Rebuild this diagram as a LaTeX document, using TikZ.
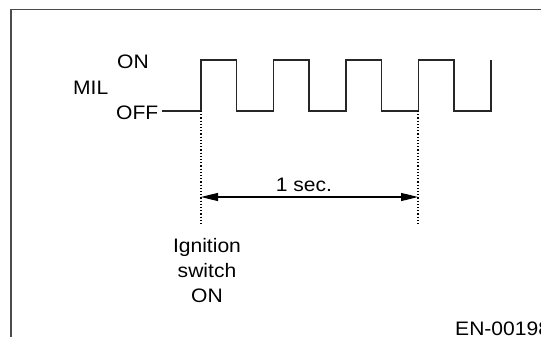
\documentclass[tikz,border=0pt]{standalone}
\usepackage{fontspec}
\setmainfont[FakeStretch=1.08]{Liberation Sans}
\usetikzlibrary{arrows.meta, positioning}

\begin{document}
\begin{tikzpicture}[
      x=1pt, y=-1pt,
      lab/.style={font=\fontsize{19.5}{25}\selectfont, inner sep=0pt},
      wave/.style={line width=1.4pt, draw=black!85},
      guide/.style={dotted, line width=1.2pt},
      dim/.style={{Triangle[length=17pt,width=8pt]}-{Triangle[length=17pt,width=8pt]}, line width=1.2pt}
    ]
      \useasboundingbox (0,0) rectangle (541,337);

% Frame
      \draw[line width=1.8pt, black!70] (11,337) -- (11,9.5) -- (541,9.5);

% Level labels
      \node[lab, anchor=base west] (on) at (117,69) {ON};
      \node[lab, anchor=base west] (mil) at (73,95) {MIL};
      \node[lab, anchor=base west] (off) at (116,119) {OFF};

% Waveform
      \coordinate (t0) at (201,111);
      \coordinate (t1) at (418,111);
      \draw[wave] (162,111) -- (t0)
        foreach \i in {1,...,4} { -- ++(0,-51) -- ++(35.5,0) -- ++(0,51) -- ++(37,0) }
        -- ++(0,-51);

% Guides
      \coordinate (g0) at (201,224);
      \coordinate (g1) at (418,226);
      \draw[guide] (t0) -- (g0);
      \draw[guide] (t1) -- (g1);

% Period
      \coordinate (a0) at (201,197);
      \coordinate (a1) at (418,197);
      \draw[dim] (a0) -- (a1);
      \node[lab, anchor=base] (sec) at (304,191) {1 sec.};

      \node[lab, anchor=north, align=center] (ign) at (207,238) {Ignition\\switch\\ON};

      \node[lab, anchor=base west] (code) at (455,335) {EN-00198};
    \end{tikzpicture}
\end{document}
